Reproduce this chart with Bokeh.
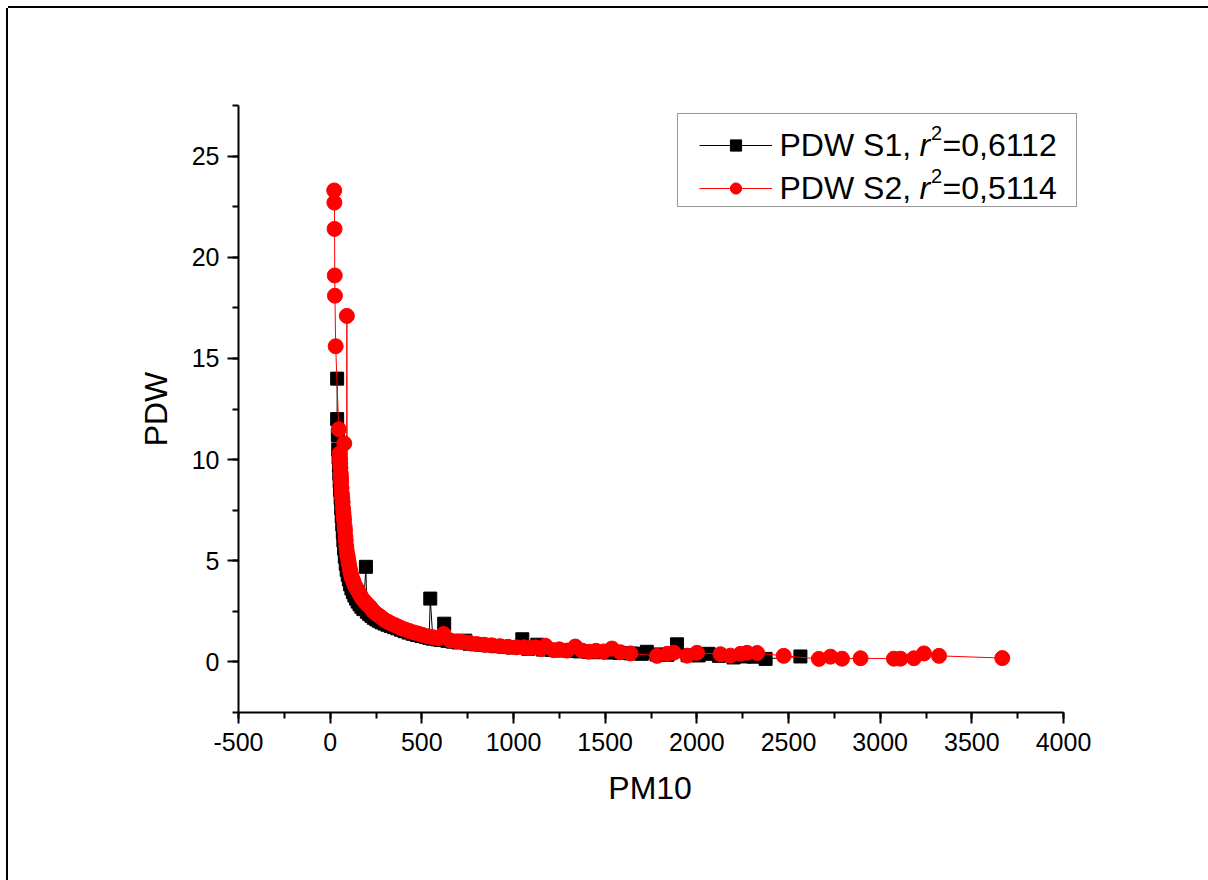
from bokeh.plotting import figure
from bokeh.models import (Range1d, SingleIntervalTicker, Legend, LegendItem, Label,
                          ColumnDataSource)
from bokeh.embed import file_html
from bokeh.resources import INLINE

# ---------------- data ----------------
s1_pm10 = [38, 38, 42, 44, 46, 48, 50, 52, 54, 57, 60, 63, 66, 69, 72, 76, 80, 85, 90, 96,
           102, 109, 116, 124, 132, 141, 150, 160, 170, 181, 195, 200, 212, 225, 238, 252,
           266, 280, 296, 312, 330, 348, 366, 386, 406, 428, 450, 474, 498, 522, 540, 546,
           560, 586, 605, 622, 640, 670, 700, 737, 760, 795, 830, 870, 910, 950, 995, 1048,
           1080, 1130, 1160, 1210, 1260, 1310, 1360, 1410, 1460, 1520, 1580, 1640, 1700, 1727,
           1780, 1840, 1892, 1950, 2010, 2063, 2120, 2200, 2260, 2310, 2375, 2565]
s1_pdw = [14.0, 12.0, 11.2, 10.5, 10.1, 9.7, 9.3, 8.9, 8.5, 8.1, 7.6, 7.2, 6.8, 6.4, 6.0, 5.6,
          5.2, 4.85, 4.55, 4.3, 4.07, 3.83, 3.63, 3.45, 3.28, 3.13, 2.98, 2.85, 2.73, 2.61, 4.7,
          2.48, 2.38, 2.28, 2.18, 2.1, 2.03, 1.96, 1.9, 1.84, 1.78, 1.72, 1.66, 1.59, 1.52,
          1.45, 1.39, 1.33, 1.28, 1.23, 1.19, 3.13, 1.15, 1.11, 1.08, 1.89, 1.04, 1.0, 0.96,
          1.05, 0.9, 0.87, 0.84, 0.81, 0.78, 0.75, 0.71, 1.12, 0.65, 0.85, 0.61, 0.59, 0.56,
          0.54, 0.52, 0.5, 0.48, 0.46, 0.44, 0.42, 0.4, 0.5, 0.37, 0.35, 0.87, 0.33, 0.32,
          0.4, 0.3, 0.22, 0.27, 0.26, 0.15, 0.27]

s2_pm10 = [22, 23, 24, 25, 26, 30, 47, 52, 54, 55, 56, 58, 59, 60, 62, 64, 66, 68, 70, 72, 74,
           76, 77, 79, 81, 83, 85, 88, 90, 91, 93, 96, 99, 102, 106, 109, 113, 117, 121, 126,
           131, 137, 143, 149, 155, 162, 170, 178, 186, 195, 204, 214, 224, 235, 247, 259, 272,
           286, 300, 316, 332, 350, 368, 388, 410, 432, 456, 480, 505, 532, 560, 590, 619, 655,
           690, 725, 760, 800, 840, 880, 925, 970, 1015, 1055, 1085, 1119, 1150, 1174, 1219,
           1250, 1292, 1337, 1374, 1410, 1450, 1492, 1537, 1583, 1638, 1783, 1838, 1874, 1947,
           2001, 2129, 2183, 2238, 2274, 2329, 2474, 2666, 2729, 2792, 2893, 3075, 3111, 3184,
           3239, 3321, 3666]
s2_pdw = [23.3, 22.7, 21.4, 19.1, 18.1, 15.6, 11.5, 10.3, 10.0, 9.8, 9.6, 9.3, 9.1, 8.9, 8.6,
          8.3, 8.1, 7.9, 7.6, 7.4, 7.2, 7.0, 10.8, 6.7, 6.5, 6.2, 6.0, 5.7, 5.5, 17.1, 5.3, 5.2,
          5.0, 4.85, 4.65, 4.5, 4.35, 4.2, 4.1, 4.0, 3.85, 3.75, 3.65, 3.55, 3.45, 3.35, 3.2,
          3.1, 3.0, 2.92, 2.83, 2.75, 2.65, 2.5, 2.42, 2.33, 2.25, 2.15, 2.05, 1.98, 1.9, 1.83,
          1.76, 1.67, 1.6, 1.53, 1.46, 1.4, 1.33, 1.27, 1.22, 1.17, 1.38, 1.06, 1.02, 0.98,
          0.94, 0.88, 0.85, 0.82, 0.78, 0.75, 0.72, 0.72, 0.68, 0.72, 0.64, 0.8, 0.58, 0.62,
          0.56, 0.76, 0.56, 0.5, 0.55, 0.52, 0.66, 0.48, 0.42, 0.3, 0.4, 0.46, 0.31, 0.45, 0.38,
          0.31, 0.4, 0.45, 0.44, 0.3, 0.15, 0.26, 0.16, 0.18, 0.16, 0.16, 0.18, 0.42, 0.3, 0.19]

assert len(s1_pm10) == len(s1_pdw) and len(s2_pm10) == len(s2_pdw)

series_names = ["PDW S1, ", "PDW S2, "]
r2_values = ["=0,6112", "=0,5114"]
x_title = "PM10"
y_title = "PDW"
x_axis_extent = (-500, 4000)
y_axis_extent = (-2.5, 27.5)

# ---------------- layout constants (page pixels) ----------------
FONT = "Liberation Sans"
OFF = 8                     # figure is placed 8px from the page corner
W, H = 1200, 872
FL, FR, FT, FB = 238, 1063, 105, 712   # axis extents in page pixels
FRAME_R = 1079                         # frame reaches a bit further right (legend box)
UX = (x_axis_extent[1] - x_axis_extent[0]) / (FR - FL)
UY = (y_axis_extent[1] - y_axis_extent[0]) / (FB - FT)
x_end = x_axis_extent[0] + (FRAME_R - FL) * UX


def sx(px):
    return x_axis_extent[0] + (px - FL) * UX


def sy(py):
    return y_axis_extent[0] + (FB - py) * UY


p = figure(width=W, height=H, output_backend="svg", toolbar_location=None,
           x_range=Range1d(x_axis_extent[0], x_end), y_range=Range1d(*y_axis_extent),
           min_border_left=FL - OFF, min_border_right=OFF + W - FRAME_R,
           min_border_top=FT - OFF, min_border_bottom=OFF + H - FB)
p.xgrid.grid_line_color = None
p.ygrid.grid_line_color = None
p.outline_line_color = None
p.background_fill_color = "white"
p.border_fill_color = "white"
p.styles = {"margin": "8px 0px 0px 8px",
            "box-shadow": "0px -2px 0px 0px #000000, -2px 0px 0px 0px #000000"}

p.xaxis.ticker = SingleIntervalTicker(interval=500, num_minor_ticks=2)
p.yaxis.ticker = SingleIntervalTicker(interval=5, num_minor_ticks=2)
p.xaxis.bounds = x_axis_extent
p.xaxis.major_label_overrides = {-500: "-500"}
# the frame is 16px wider than the axis; two no-break spaces re-centre the title under the axis
p.xaxis.axis_label = x_title + "\u00a0\u00a0"
p.yaxis.axis_label = y_title
for ax in (p.xaxis[0], p.yaxis[0]):
    ax.axis_line_width = 2
    ax.axis_line_color = "black"
    ax.major_tick_line_width = 2
    ax.minor_tick_line_width = 2
    ax.major_tick_line_color = "black"
    ax.minor_tick_line_color = "black"
    ax.major_tick_out = 11
    ax.major_tick_in = 0
    ax.minor_tick_out = 6
    ax.minor_tick_in = 0
    ax.major_label_text_font = FONT
    ax.major_label_text_font_size = "25px"
    ax.major_label_text_color = "black"
    ax.axis_label_text_font = FONT
    ax.axis_label_text_font_size = "32px"
    ax.axis_label_text_font_style = "normal"
    ax.axis_label_text_color = "black"
p.xaxis.major_label_standoff = 9
p.xaxis.axis_label_standoff = 16
p.yaxis.major_label_standoff = 8
p.yaxis.axis_label_standoff = 15

src1 = ColumnDataSource(dict(x=s1_pm10, y=s1_pdw))
src2 = ColumnDataSource(dict(x=s2_pm10, y=s2_pdw))

l1 = p.line("x", "y", source=src1, line_color="black", line_width=1)
m1 = p.scatter("x", "y", source=src1, marker="square", size=13,
               fill_color="black", line_color="black")
l2 = p.line("x", "y", source=src2, line_color="#ff0000", line_width=1)
m2 = p.scatter("x", "y", source=src2, marker="circle", size=15,
               fill_color="#ff0000", line_color="#ff0000")

# legend frame (a legend with no glyphs, used only for its border)
box = Legend(items=[LegendItem(label=" ", renderers=[])],
             location=(677 - FL, FB - 207), glyph_width=398, glyph_height=92,
             padding=0, margin=0, label_standoff=0, label_width=0, label_height=0,
             label_text_font_size="1px", border_line_color="#333333",
             border_line_width=1.5, background_fill_alpha=0)
p.add_layout(box)

# legend samples (line + marker); text is drawn with labels below
legend = Legend(items=[LegendItem(label=" ", renderers=[l1, m1]),
                       LegendItem(label=" ", renderers=[l2, m2])],
                location=(699 - FL, FB - 202), orientation="vertical",
                glyph_width=73, glyph_height=28, spacing=15, padding=0, margin=0,
                label_standoff=0, label_width=0, label_height=0,
                label_text_font_size="1px",
                border_line_color=None, background_fill_alpha=0)
p.add_layout(legend)

baselines = [144, 187]
for name, r2, base in zip(series_names, r2_values, baselines):
    p.add_layout(Label(x=sx(779), y=sy(base), text=name, text_font=FONT,
                       text_font_size="32px", text_color="black",
                       text_baseline="alphabetic", text_align="left"))
    p.add_layout(Label(x=sx(919), y=sy(base), text="r", text_font=FONT,
                       text_font_size="32px", text_font_style="italic", text_color="black",
                       text_baseline="alphabetic", text_align="left"))
    p.add_layout(Label(x=sx(930.5), y=sy(base - 12), text="2", text_font=FONT,
                       text_font_size="20px", text_color="black",
                       text_baseline="alphabetic", text_align="left"))
    p.add_layout(Label(x=sx(942), y=sy(base), text=r2, text_font=FONT,
                       text_font_size="32px", text_color="black",
                       text_baseline="alphabetic", text_align="left"))

open("out.html", "w").write(file_html(p, INLINE))
